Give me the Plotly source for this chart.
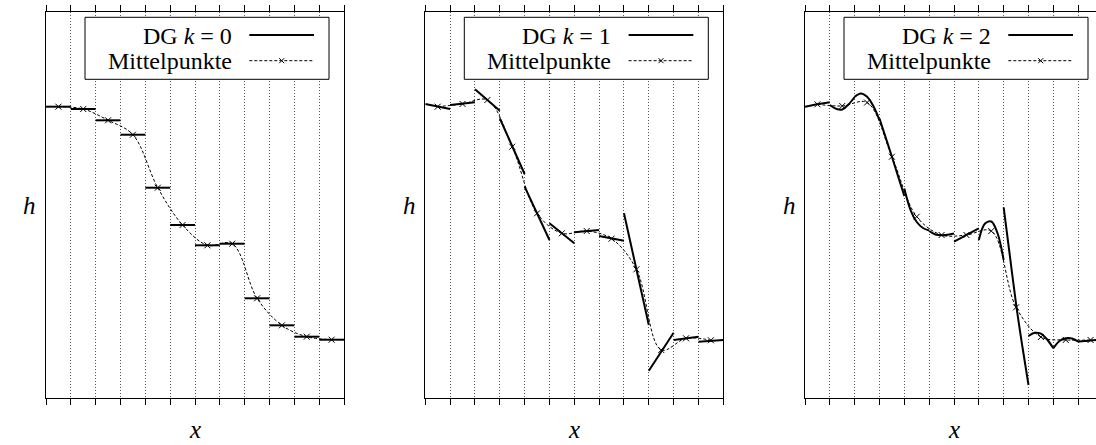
import plotly.graph_objects as go

# ---------------- data (h values, cell index 0..11 on x) ----------------
n_cells = 12
x_ticks = list(range(13))

# Panel 1: DG k = 0 (constant per cell) and midpoints
dg0_values = [0.7547, 0.7487, 0.7194, 0.6821, 0.5448, 0.4482, 0.3956, 0.3997, 0.2583, 0.1883, 0.1588, 0.1510]
mid0_values = [0.7547, 0.7487, 0.7194, 0.6821, 0.5448, 0.4482, 0.3956, 0.3997, 0.2583, 0.1883, 0.1588, 0.1510]

# Panel 2: DG k = 1 (linear per cell: left/right values) and midpoints
dg1_left = [0.7617, 0.7591, 0.7997, 0.7246, 0.5474, 0.4526, 0.4293, 0.4197, 0.4785, 0.0707, 0.1503, 0.1459]
dg1_right = [0.7487, 0.7661, 0.7443, 0.5803, 0.4093, 0.4008, 0.4352, 0.4075, 0.1891, 0.1692, 0.1588, 0.1503]
mid1_values = [0.7547, 0.7617, 0.7720, 0.6510, 0.4785, 0.4267, 0.4326, 0.4127, 0.3334, 0.1244, 0.1547, 0.1495]

# Panel 3: DG k = 2 (quadratic per cell, read at 0, 1/4, 1/2, 3/4, 1 of each cell) and midpoints
dg2_left = [0.7547, 0.7591, 0.7806, 0.7241, 0.5427, 0.4326, 0.4049, 0.4093, 0.4940, 0.1606, 0.1288, 0.1459]
dg2_q1 = [0.7578, 0.7492, 0.7891, 0.6749, 0.4870, 0.4236, 0.4135, 0.4521, 0.3679, 0.1689, 0.1477, 0.1477]
dg2_mid = [0.7609, 0.7474, 0.7803, 0.6251, 0.4560, 0.4215, 0.4223, 0.4573, 0.2435, 0.1666, 0.1547, 0.1490]
dg2_q3 = [0.7635, 0.7604, 0.7565, 0.5738, 0.4404, 0.4228, 0.4308, 0.4275, 0.1347, 0.1516, 0.1541, 0.1503]
dg2_right = [0.7661, 0.7798, 0.7202, 0.5233, 0.4339, 0.4262, 0.4396, 0.3575, 0.0337, 0.1288, 0.1459, 0.1510]
mid2_values = [0.7609, 0.7565, 0.7655, 0.6251, 0.4697, 0.4223, 0.4223, 0.4326, 0.2350, 0.1580, 0.1503, 0.1503]

legend_labels = ["DG <i>k</i> = 0", "DG <i>k</i> = 1", "DG <i>k</i> = 2"]
legend_mid_label = "Mittelpunkte"
x_label = "<i>x</i>"
y_label = "<i>h</i>"

# ---------------- figure ----------------
W, H = 1096, 445
FONT = "Liberation Serif"
panel_left_px = [46, 425.3, 805]
panel_w_px = 298.0
plot_top_px, plot_bot_px = 12, 398

fig = go.Figure()

def add_dg(idx, xs_list, ys_list):
    xa = "x" if idx == 0 else f"x{idx+1}"
    ya = "y" if idx == 0 else f"y{idx+1}"
    for xs, ys in zip(xs_list, ys_list):
        fig.add_trace(go.Scatter(x=xs, y=ys, mode="lines", xaxis=xa, yaxis=ya,
                                 line=dict(color="black", width=2, shape="spline", smoothing=1),
                                 showlegend=False, hoverinfo="skip"))

def add_mid(idx, vals):
    xa = "x" if idx == 0 else f"x{idx+1}"
    ya = "y" if idx == 0 else f"y{idx+1}"
    fig.add_trace(go.Scatter(x=[i + 0.5 for i in range(n_cells)], y=vals, mode="lines+markers",
                             xaxis=xa, yaxis=ya,
                             line=dict(color="black", width=1, dash="3px,2px", shape="spline", smoothing=1),
                             marker=dict(symbol="x-thin", size=6, color="black",
                                         line=dict(width=1, color="black")),
                             showlegend=False, hoverinfo="skip"))

# panel 1
add_dg(0, [[i, i + 1] for i in range(n_cells)], [[v, v] for v in dg0_values])
add_mid(0, mid0_values)
# panel 2
add_dg(1, [[i, i + 1] for i in range(n_cells)], [[l, r] for l, r in zip(dg1_left, dg1_right)])
add_mid(1, mid1_values)
# panel 3
add_dg(2, [[i, i + 0.25, i + 0.5, i + 0.75, i + 1] for i in range(n_cells)],
       [list(v) for v in zip(dg2_left, dg2_q1, dg2_mid, dg2_q3, dg2_right)])
add_mid(2, mid2_values)

ydom = [(H - plot_bot_px) / H, (H - plot_top_px) / H]
px_per_cell = panel_w_px / 12
annotations = []
shapes = []
for k in range(3):
    sfx = "" if k == 0 else str(k + 1)
    left = panel_left_px[k]
    right = min(left + panel_w_px, W)
    xmax = 12 * (right - left) / panel_w_px
    fig.layout["xaxis" + sfx] = dict(
        domain=[left / W, right / W], range=[0, xmax], tickvals=x_ticks,
        ticks="outside", ticklen=6, tickwidth=1, tickcolor="black", showticklabels=False,
        showline=True, linecolor="black", linewidth=1, mirror="ticks",
        showgrid=True, gridcolor="#555", griddash="1px,2px", gridwidth=1, zeroline=False,
        anchor="y" + sfx, fixedrange=True)
    fig.layout["yaxis" + sfx] = dict(
        domain=ydom, range=[0, 1], showline=True, linecolor="black", linewidth=1,
        mirror=(k < 2), ticks="", showticklabels=False, showgrid=False, zeroline=False,
        anchor="x" + sfx, fixedrange=True)
    xr = "x" + sfx
    yr = "y" + sfx
    # axis labels
    annotations.append(dict(text=x_label, xref=xr, x=6, yref="paper", y=0,
                            xanchor="center", yanchor="bottom", showarrow=False,
                            font=dict(family=FONT, size=25, color="black")))
    annotations.append(dict(text=y_label, xref=xr + " domain", x=-16 / (right - left),
                            yref=yr + " domain", y=0.5,
                            xanchor="center", yanchor="middle", showarrow=False,
                            font=dict(family=FONT, size=25, color="black")))
    # legend (box, texts, samples) in cell units / h units
    def cx(px):
        return px / px_per_cell
    def cy(py):
        return (plot_bot_px - py) / (plot_bot_px - plot_top_px)
    shapes.append(dict(type="rect", xref=xr, yref=yr, x0=cx(39), x1=cx(283), y0=cy(79.3), y1=cy(17.3),
                       fillcolor="white", line=dict(color="black", width=1), layer="above"))
    annotations.append(dict(text=legend_labels[k], xref=xr, x=cx(187.5), yref=yr, y=cy(35.5),
                            xanchor="right", yanchor="middle", showarrow=False,
                            font=dict(family=FONT, size=24, color="black")))
    annotations.append(dict(text=legend_mid_label, xref=xr, x=cx(187.5), yref=yr, y=cy(60.5),
                            xanchor="right", yanchor="middle", showarrow=False,
                            font=dict(family=FONT, size=24, color="black")))
    shapes.append(dict(type="line", xref=xr, yref=yr, x0=cx(203.3), x1=cx(268), y0=cy(35), y1=cy(35),
                       line=dict(color="black", width=2), layer="above"))
    shapes.append(dict(type="line", xref=xr, yref=yr, x0=cx(203.3), x1=cx(268), y0=cy(60.7), y1=cy(60.7),
                       line=dict(color="black", width=1, dash="3px,2px"), layer="above"))
    mx, my, d = cx(235.7), cy(60.7), 2.5
    shapes.append(dict(type="path", xref=xr, yref=yr,
                       path=f"M {mx - cx(d)},{my - d / 386} L {mx + cx(d)},{my + d / 386} "
                            f"M {mx - cx(d)},{my + d / 386} L {mx + cx(d)},{my - d / 386}",
                       line=dict(color="black", width=1), layer="above"))

fig.update_layout(width=W, height=H, margin=dict(l=0, r=0, t=0, b=0),
                  paper_bgcolor="white", plot_bgcolor="white", showlegend=False,
                  annotations=annotations, shapes=shapes,
                  font=dict(family=FONT, size=24, color="black"))

fig.write_html("out.html")
